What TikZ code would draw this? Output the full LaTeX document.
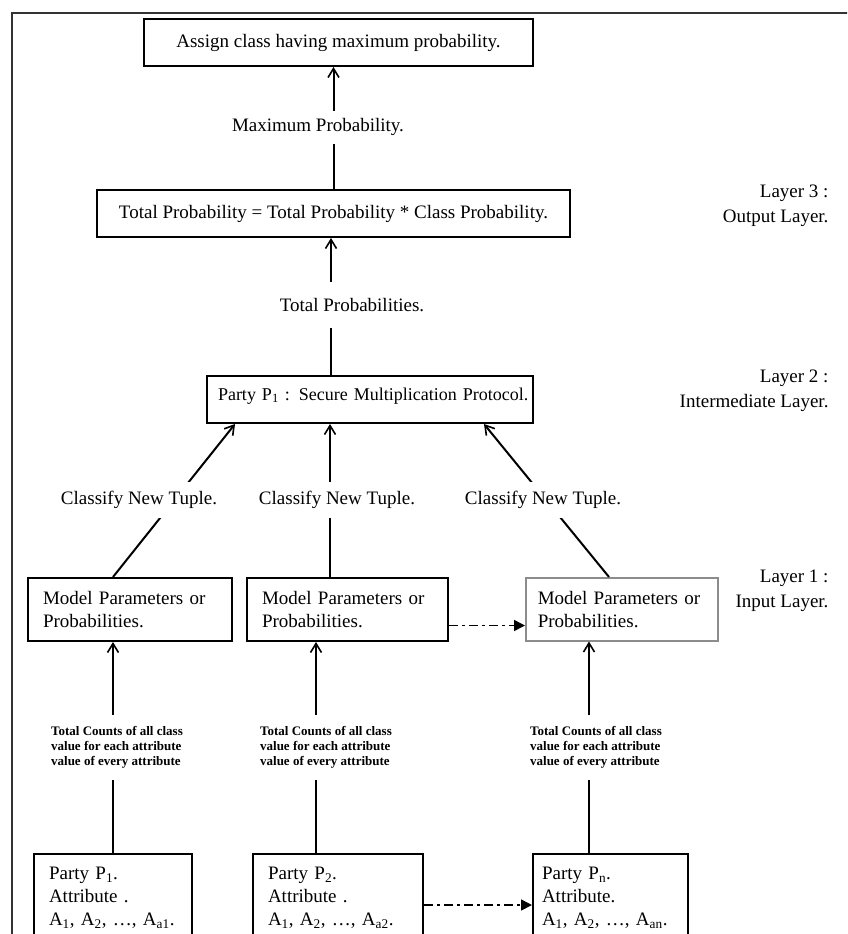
\documentclass[tikz,border=0pt]{standalone}
\usepackage{fontspec}
\setmainfont{Liberation Serif}
\usetikzlibrary{arrows.meta}

\tikzset{
	box/.style={draw, line width=2pt, anchor=north west, inner sep=0pt, font=\fontsize{19}{23}\selectfont},
	mbox/.style={box, align=left, inner xsep=15pt, minimum height=63pt},
	pbox/.style={box, align=left, inner xsep=15pt, minimum height=88pt},
	lbl/.style={fill=white, inner xsep=2pt, inner ysep=0pt, font=\fontsize{19}{23}\selectfont},
	small/.style={fill=white, inner sep=0pt, align=left, font=\bfseries\fontsize{13}{15}\selectfont},
	layer/.style={align=right, anchor=east, font=\fontsize{19}{25}\selectfont},
	arr/.style={line width=2pt, -{Straight Barb[length=9pt,width=11pt,line width=1.6pt]}},
	dd/.style={line width=1.6pt, dash pattern=on 9pt off 4pt on 3pt off 4pt, -{Triangle[length=11pt,width=11pt]}},
}

\begin{document}
\begin{tikzpicture}[x=1pt,y=-1pt]
	\useasboundingbox (0,0) rectangle (847,934);
	\clip (0,0) rectangle (847,934);
	
	%FRAME
	\draw[line width=2pt, draw=black!80] (860,13) -- (12,13) -- (12,950);
	
	%OUTPUT LAYER
	\node[box, minimum width=389pt, minimum height=47pt] (assign) at (143,18) {Assign class having maximum probability.};
	\node[box, minimum width=473pt, minimum height=47pt] (total) at (96,189) {Total Probability = Total Probability * Class Probability.};
	
	%INTERMEDIATE LAYER
	\node[box, align=left, font=\fontsize{18}{21}\selectfont, text width=304pt, inner xsep=11pt, inner ysep=4pt, text height=20pt, text depth=19pt] (secure) at (206,375) {\mbox{Party P\textsubscript{1} : Secure Multiplication Protocol.}};
	
	%INPUT LAYER
	\node[mbox, text width=174pt] (model1) at (27,577) {Model Parameters or\\Probabilities.};
	\node[mbox, text width=171pt] (model2) at (246,577) {Model Parameters or\\Probabilities.};
	\node[mbox, text width=168pt, inner xsep=12pt, draw=black!45, line width=1.5pt] (model3) at (525,577) {Model Parameters or\\Probabilities.};
	
	%PARTIES
	\node[pbox, text width=128pt] (party1) at (33,853) {Party P\textsubscript{1}.\\Attribute .\\A\textsubscript{1}, A\textsubscript{2}, \dots, A\textsubscript{a1}.};
	\node[pbox, text width=140pt] (party2) at (252,853) {Party P\textsubscript{2}.\\Attribute .\\A\textsubscript{1}, A\textsubscript{2}, \dots, A\textsubscript{a2}.};
	\node[pbox, text width=137pt, inner xsep=9pt] (party3) at (532,853) {Party P\textsubscript{n}.\\Attribute.\\A\textsubscript{1}, A\textsubscript{2}, \dots, A\textsubscript{an}.};
	
	%LINES
	\draw[arr] (total.north) -- (total.north |- assign.south);
	\draw[arr] ([xshift=-39pt]secure.north) -- ([xshift=-39pt]secure.north |- total.south);
	\draw[arr] ([xshift=86pt]model1.north west) -- ([xshift=29pt]secure.south west);
	\draw[arr] ([xshift=84pt]model2.north west) -- ([xshift=124pt]secure.south west);
	\draw[arr] ([xshift=84pt]model3.north west) -- ([xshift=-50pt]secure.south east);
	\foreach \i/\x in {1/80,2/64,3/57} \draw[arr] ([xshift=\x pt]party\i.north west) -- ([xshift=\x pt]party\i.north west |- model\i.south);
	\draw[dd] ([yshift=-16pt]model2.east) -- ([yshift=-16pt]model2.east -| model3.west);
	\draw[dd] ([yshift=-7pt]party2.east) -- ([yshift=-7pt]party2.east -| party3.west);
	
	%LABELS
	\node[lbl, minimum height=33pt] (maxprob) at (318,127) {Maximum Probability.};
	\node[lbl, minimum height=46pt] (totprob) at (352,305) {Total Probabilities.};
	\node[lbl, minimum height=36pt] (classify1) at (139,500) {Classify New Tuple.};
	\node[lbl, minimum height=36pt] (classify2) at (337,500) {Classify New Tuple.};
	\node[lbl, minimum height=36pt] (classify3) at (543,500) {Classify New Tuple.};
	\node[small, minimum height=65pt] (count1) at (117,747) {Total Counts of all class\\value for each attribute\\value of every attribute};
	\node[small, minimum height=65pt] (count2) at (326,747) {Total Counts of all class\\value for each attribute\\value of every attribute};
	\node[small, minimum height=65pt] (count3) at (596,747) {Total Counts of all class\\value for each attribute\\value of every attribute};
	
	%LAYERS
	\node[layer] (layer3) at (832,206) {Layer 3 :\\Output Layer.};
	\node[layer] (layer2) at (832,391) {Layer 2 :\\Intermediate Layer.};
	\node[layer] (layer1) at (832,591) {Layer 1 :\\Input Layer.};
\end{tikzpicture}
\end{document}
